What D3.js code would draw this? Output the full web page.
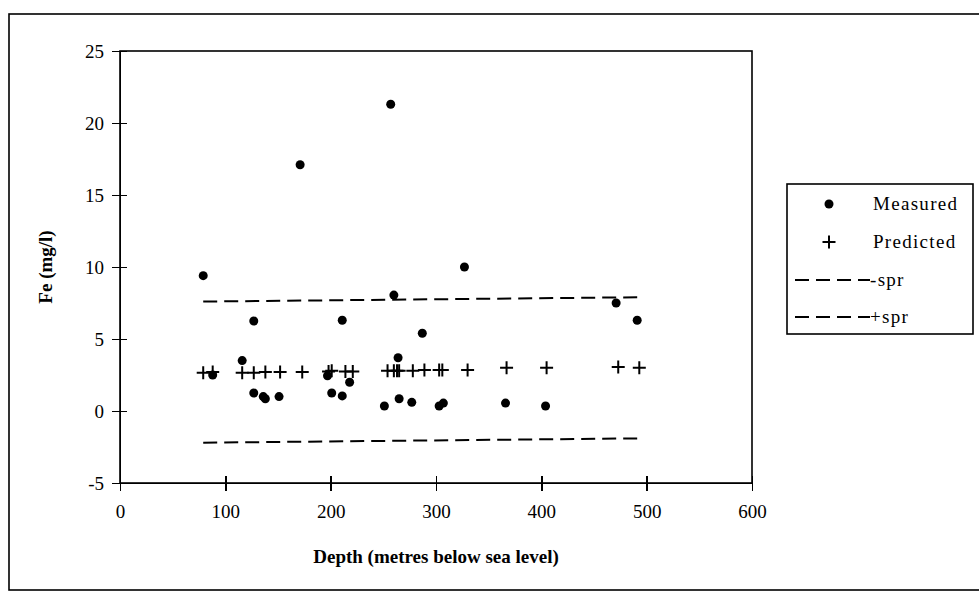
<!DOCTYPE html>
<html>
<head>
<meta charset="utf-8">
<title>Fe vs depth</title>
<script src="https://cdn.jsdelivr.net/npm/d3@7"></script>
<style>
  html, body { margin: 0; background: #fff; }
  svg { display: block; font-family: "Liberation Serif", "Times New Roman", serif; }
  .axis { font-family: "Liberation Serif", "Times New Roman", serif; }
  .axis path, .axis line { stroke: #000; stroke-width: 1.6; shape-rendering: crispEdges; }
  .axis text { font-size: 19px; fill: #000; }
  .legend text { font-size: 19px; letter-spacing: 1.3px; }
</style>
</head>
<body>
<svg id="chart" width="979" height="599"></svg>
<script>
// measured Fe (mg/l) against depth
var measuredDepth = [79, 88, 116, 127, 127, 136, 138, 151, 171, 197, 201, 211, 211, 218,
                     251, 257, 260, 264, 265, 277, 287, 303, 307, 327, 366, 404, 471, 491];
var measuredFe    = [9.4, 2.5, 3.5, 6.25, 1.25, 1.0, 0.85, 1.0, 17.1, 2.45, 1.25, 6.3, 1.05, 2.0,
                     0.35, 21.3, 8.05, 3.7, 0.85, 0.6, 5.4, 0.35, 0.55, 10.0, 0.55, 0.35, 7.5, 6.3];

// predicted Fe
var predictedDepth = [79, 88, 116, 127, 138, 152, 173, 198, 201, 214, 221, 254, 260, 263, 265,
                      278, 289, 303, 306, 330, 367, 405, 473, 493];
var predictedFe    = [2.65, 2.7, 2.65, 2.65, 2.7, 2.7, 2.7, 2.75, 2.8, 2.75, 2.75, 2.8, 2.8, 2.8, 2.8,
                      2.8, 2.85, 2.85, 2.85, 2.85, 3.0, 3.0, 3.05, 3.0];

// spread lines
var sprDepth  = [79, 493];
var sprMinus  = [7.6, 7.9];
var sprPlus   = [-2.2, -1.9];

var xTicks = [0, 100, 200, 300, 400, 500, 600];
var yTicks = [-5, 0, 5, 10, 15, 20, 25];
var legendNames = ["Measured", "Predicted", "-spr", "+spr"];

var svg = d3.select("#chart");
var plain = function(d) { return String(d); };

// outer chart frame
svg.append("rect")
  .attr("x", 9).attr("y", 14).attr("width", 1000).attr("height", 576)
  .attr("fill", "none").attr("stroke", "#000").attr("stroke-width", 1.6);

var x = d3.scaleLinear().domain([0, 600]).range([120, 752]);
var y = d3.scaleLinear().domain([-5, 25]).range([483, 51]);

// plot frame
svg.append("rect")
  .attr("x", x(0)).attr("y", y(25))
  .attr("width", x(600) - x(0)).attr("height", y(-5) - y(25))
  .attr("fill", "none").attr("stroke", "#000").attr("stroke-width", 1.6);

// y axis, ticks crossing the line
svg.append("g").attr("class", "axis")
  .attr("transform", "translate(" + x(0) + ",0)")
  .call(d3.axisLeft(y).tickValues(yTicks).tickSize(8).tickPadding(8).tickFormat(plain));
svg.append("g").attr("class", "axis")
  .attr("transform", "translate(" + x(0) + ",0)")
  .call(d3.axisRight(y).tickValues(yTicks).tickSize(7).tickFormat(""))
  .select(".domain").remove();

// x axis
svg.append("g").attr("class", "axis")
  .attr("transform", "translate(0," + y(-5) + ")")
  .call(d3.axisBottom(x).tickValues(xTicks).tickSize(8).tickPadding(14).tickFormat(plain));
svg.append("g").attr("class", "axis")
  .attr("transform", "translate(0," + y(-5) + ")")
  .call(d3.axisTop(x).tickValues(xTicks).tickSize(7).tickFormat(""))
  .select(".domain").remove();

// axis titles
svg.append("text")
  .attr("x", (x(0) + x(600)) / 2).attr("y", 563)
  .attr("text-anchor", "middle")
  .style("font-size", "19px").style("font-weight", "bold")
  .text("Depth (metres below sea level)");

svg.append("text")
  .attr("transform", "translate(52," + ((y(-5) + y(25)) / 2) + ") rotate(-90)")
  .attr("text-anchor", "middle")
  .style("font-size", "19px").style("font-weight", "bold")
  .text("Fe (mg/l)");

// dashed spread lines
var line = d3.line().x(function(d) { return x(d[0]); }).y(function(d) { return y(d[1]); });
[sprMinus, sprPlus].forEach(function(vals) {
  svg.append("path")
    .datum(sprDepth.map(function(d, i) { return [d, vals[i]]; }))
    .attr("d", line)
    .attr("fill", "none").attr("stroke", "#000")
    .attr("stroke-width", 2).attr("stroke-dasharray", "14,7");
});

// predicted crosses
svg.append("g").selectAll("path")
  .data(predictedDepth.map(function(d, i) { return [d, predictedFe[i]]; }))
  .enter().append("path")
  .attr("d", function(d) {
    var cx = x(d[0]), cy = y(d[1]);
    return "M" + (cx - 6.5) + "," + cy + "H" + (cx + 6.5) + "M" + cx + "," + (cy - 6.5) + "V" + (cy + 6.5);
  })
  .attr("stroke", "#000").attr("stroke-width", 2);

// measured dots
svg.append("g").selectAll("circle")
  .data(measuredDepth.map(function(d, i) { return [d, measuredFe[i]]; }))
  .enter().append("circle")
  .attr("cx", function(d) { return x(d[0]); })
  .attr("cy", function(d) { return y(d[1]); })
  .attr("r", 4.5)
  .attr("fill", "#000");

// legend
var lg = svg.append("g").attr("class", "legend");
lg.append("rect")
  .attr("x", 787).attr("y", 184).attr("width", 186).attr("height", 150)
  .attr("fill", "#fff").attr("stroke", "#000").attr("stroke-width", 1.6);

var rowY = [204, 242, 280, 317];
legendNames.forEach(function(name, i) {
  var ry = rowY[i];
  if (i === 0) {
    lg.append("circle").attr("cx", 829).attr("cy", ry).attr("r", 4.5).attr("fill", "#000");
  } else if (i === 1) {
    lg.append("path")
      .attr("d", "M822.5," + ry + "H835.5M829," + (ry - 6.5) + "V" + (ry + 6.5))
      .attr("stroke", "#000").attr("stroke-width", 2);
  } else {
    lg.append("line")
      .attr("x1", 795).attr("x2", 870).attr("y1", ry).attr("y2", ry)
      .attr("stroke", "#000").attr("stroke-width", 2).attr("stroke-dasharray", "14,7");
  }
  lg.append("text")
    .attr("x", i < 2 ? 873 : 870).attr("y", ry + 6)
    .text(name);
});
</script>
</body>
</html>
